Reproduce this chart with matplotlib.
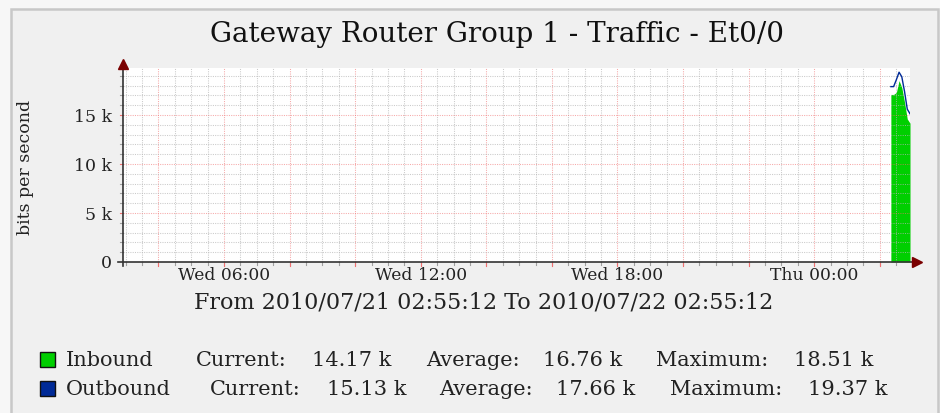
import matplotlib
matplotlib.use("Agg")
import matplotlib.pyplot as plt
import pandas as pd
from matplotlib.patches import Rectangle

# ---------------- data ----------------
title = "Gateway Router Group 1 - Traffic - Et0/0"
subtitle = "From 2010/07/21 02:55:12 To 2010/07/22 02:55:12"
y_label = "bits per second"
range_start = "2010-07-21 02:55:12"
range_end = "2010-07-22 02:55:12"

sample_times = ["2010-07-22 02:20:12", "2010-07-22 02:25:12", "2010-07-22 02:30:12",
                "2010-07-22 02:35:12", "2010-07-22 02:40:12", "2010-07-22 02:45:12",
                "2010-07-22 02:50:12", "2010-07-22 02:55:12"]
inbound_bps = [17100, 17100, 17300, 18510, 17800, 16300, 14600, 14170]
outbound_bps = [17900, 17900, 18600, 19370, 18900, 17400, 15600, 15130]

y_ticks = [0, 5000, 10000, 15000]
y_tick_labels = ["0", "5 k", "10 k", "15 k"]
x_tick_times = ["2010-07-21 06:00", "2010-07-21 12:00", "2010-07-21 18:00", "2010-07-22 00:00"]
x_tick_labels = ["Wed 06:00", "Wed 12:00", "Wed 18:00", "Thu 00:00"]

legend_names = ["Inbound", "Outbound"]
legend_current = ["14.17 k", "15.13 k"]
legend_average = ["16.76 k", "17.66 k"]
legend_maximum = ["18.51 k", "19.37 k"]
series_colors = ["#00CF00", "#002A97"]

# ---------------- figure ----------------
W, H = 940, 413
plt.rcParams['font.family'] = ['DejaVu Serif']
fig = plt.figure(figsize=(W / 100, H / 100), dpi=100)
fig.patch.set_facecolor("#f7f7f7")
fig.add_artist(Rectangle((10.5 / W, -0.05), (937.5 - 10.5) / W, (H - 9 + 0.05 * H) / H,
                         transform=fig.transFigure, facecolor="#f0f0f0",
                         edgecolor="#c8c8c8", linewidth=1.8, zorder=0))

L, R, T, B = 123, 910, 68, 262
ax = fig.add_axes([L / W, (H - B) / H, (R - L) / W, (B - T) / H])
ax.set_facecolor("white")
for s in ax.spines.values():
    s.set_visible(False)

t0 = pd.Timestamp(range_start)
t1 = pd.Timestamp(range_end)
ax.set_xlim(t0, t1)
ax.set_ylim(0, 19800)

t = pd.to_datetime(sample_times)
ax.fill_between(t, 0, inbound_bps, color=series_colors[0], linewidth=0, zorder=2)
ax.plot(t, outbound_bps, color=series_colors[1], linewidth=1.0, zorder=4)

# grid
GRAY = "#b4b4b4"
RED = "#f07070"
dots = (0, (1, 1.2))
minor_x = pd.date_range(t0.ceil("30min"), t1, freq="30min")
major_x = pd.date_range(t0.ceil("2h"), t1, freq="2h")
for x in minor_x:
    if x in major_x:
        continue
    ax.axvline(x, color=GRAY, alpha=0.7, lw=0.75, ls=dots, zorder=3)
for x in major_x:
    ax.axvline(x, color=RED, alpha=0.6, lw=0.75, ls=dots, zorder=3)
for y in range(1000, 20000, 1000):
    if y % 5000 == 0:
        ax.axhline(y, color=RED, alpha=0.6, lw=0.75, ls=dots, zorder=3)
    else:
        ax.axhline(y, color=GRAY, alpha=0.7, lw=0.75, ls=dots, zorder=3)

# tick marks drawn short outside axes
xtr = ax.get_xaxis_transform()
ytr = ax.get_yaxis_transform()
for x in minor_x:
    ax.plot([x, x], [0, -2.5 / (B - T)], color="#a0a0a0", lw=0.8, transform=xtr, clip_on=False, zorder=5)
for x in major_x:
    ax.plot([x, x], [0, -4 / (B - T)], color=RED, lw=0.8, transform=xtr, clip_on=False, zorder=5)
for y in range(1000, 20000, 1000):
    c = RED if y % 5000 == 0 else "#a0a0a0"
    ax.plot([0, -3 / (R - L)], [y, y], color=c, lw=0.8, transform=ytr, clip_on=False, zorder=5)

# axes lines and arrows
ax.plot([-5 / (R - L), (916 - L) / (R - L)], [0, 0], color="#333333", lw=1.2,
        transform=ax.transAxes, clip_on=False, zorder=6)
ax.plot([0, 0], [-4 / (B - T), (B - 64) / (B - T)], color="#333333", lw=1.2,
        transform=ax.transAxes, clip_on=False, zorder=6)
ax.plot([(917 - L) / (R - L)], [0], marker=">", color="#7a0000", markersize=7,
        transform=ax.transAxes, clip_on=False, zorder=7)
ax.plot([0], [(B - 64) / (B - T)], marker="^", color="#7a0000", markersize=7,
        transform=ax.transAxes, clip_on=False, zorder=7)

ax.set_xticks(pd.to_datetime(x_tick_times))
ax.set_xticklabels(x_tick_labels, fontsize=12.3)
ax.set_yticks(y_ticks)
ax.set_yticklabels(y_tick_labels, fontsize=12.5)
ax.tick_params(axis="both", length=0, colors="#222222")
ax.tick_params(axis="x", pad=3.5)
ax.tick_params(axis="y", pad=8)

fig.text(25 / W, 1 - 167 / H, y_label, rotation=90, ha="center", va="center", fontsize=12.5, color="#222222")
fig.text(497 / W, 1 - 41.5 / H, title, ha="center", va="baseline", fontsize=20, color="#111111")
fig.text(484 / W, 1 - 308.5 / H, subtitle, ha="center", va="baseline", fontsize=16, color="#222222")

# legend
rows_base = [366, 395]
square_top = [352, 381]
label_x = [[66, 196, 312, 426, 543, 656, 794], [66, 210, 327, 439, 556, 670, 808]]
for i in range(2):
    fig.add_artist(Rectangle((39.5 / W, 1 - (square_top[i] + 15) / H), 15 / W, 15 / H,
                             transform=fig.transFigure, facecolor=series_colors[i],
                             edgecolor="#111111", linewidth=1.0))
    pieces = [legend_names[i], "Current:", legend_current[i], "Average:",
              legend_average[i], "Maximum:", legend_maximum[i]]
    for x, s in zip(label_x[i], pieces):
        fig.text(x / W, 1 - rows_base[i] / H, s, ha="left", va="baseline", fontsize=15, color="#222222")

fig.savefig("out.png", dpi=100, facecolor=fig.get_facecolor())
